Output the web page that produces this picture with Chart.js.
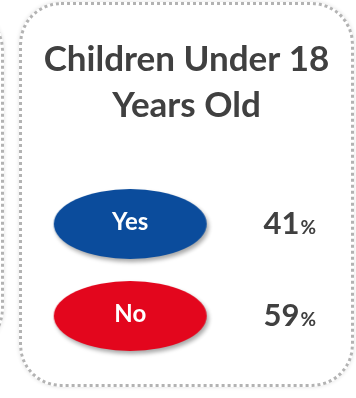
<!DOCTYPE html>
<html>
<head>
<meta charset="utf-8">
<title>Children Under 18 Years Old</title>
<script src="https://cdn.jsdelivr.net/npm/chart.js@4.4.1/dist/chart.umd.min.js"></script>
<style>
  html, body { margin: 0; padding: 0; background: #fff; }
  body { width: 356px; height: 398px; position: relative; overflow: hidden; }
  .panel {
    position: absolute;
    border: 3px dotted #b3b3b3;
    border-radius: 42px;
    box-shadow: 0 0 4px rgba(0, 0, 0, 0.12);
  }
  #prevPanel { left: -300px; top: 8px; width: 298px; height: 337px; }
  #mainPanel { left: 19px; top: 2px; width: 329px; height: 379px; }
  #childrenChart { position: absolute; left: 0; top: 0; }
</style>
</head>
<body>
<div class="panel" id="prevPanel"></div>
<div class="panel" id="mainPanel"></div>
<canvas id="childrenChart" width="356" height="398"></canvas>

<script>
const answers = ['Yes', 'No'];
const shares = [41, 59];
const badgeColors = ['#0b4c9c', '#e3061d'];

const BADGE_X = 0.333;   // column for the answer ovals
const SHARE_X = 0.736;   // column for the percentages

// oval badge used as the point style
function makeBadge(color) {
    const w = 153, h = 70, pad = 8;
    const c = document.createElement('canvas');
    c.width = w + pad * 2;
    c.height = h + pad * 2;
    const g = c.getContext('2d');
    g.shadowColor = 'rgba(0, 0, 0, 0.35)';
    g.shadowBlur = 4;
    g.shadowOffsetX = 2;
    g.shadowOffsetY = 3;
    g.fillStyle = color;
    g.beginPath();
    g.ellipse(c.width / 2, c.height / 2, w / 2, h / 2, 0, 0, Math.PI * 2);
    g.fill();
    return c;
}
const badges = badgeColors.map(makeBadge);

// answer text inside the ovals + share on the right
const badgeLabels = {
    id: 'badgeLabels',
    afterDatasetsDraw(chart) {
        const ctx = chart.ctx;
        const xScale = chart.scales.x;
        const sx = xScale.getPixelForValue(SHARE_X);
        const meta = chart.getDatasetMeta(0);
        ctx.save();
        meta.data.forEach((pt, i) => {
            ctx.fillStyle = '#ffffff';
            ctx.textAlign = 'center';
            ctx.textBaseline = 'middle';
            ctx.font = 'bold 24px Lato';
            ctx.fillText(answers[i], pt.x, pt.y - 2);

            ctx.fillStyle = '#404040';
            ctx.textAlign = 'left';
            ctx.textBaseline = 'alphabetic';
            ctx.font = 'bold 31px Lato';
            const num = String(shares[i]);
            ctx.fillText(num, sx, pt.y + 10);
            const nw = ctx.measureText(num).width;
            ctx.font = 'bold 19px Lato';
            ctx.fillText('%', sx + nw + 1, pt.y + 10);
        });
        ctx.restore();
    }
};

new Chart(document.getElementById('childrenChart'), {
    type: 'scatter',
    data: {
        datasets: [{
            data: answers.map(a => ({ x: BADGE_X, y: a })),
            pointStyle: ctx => badges[ctx.dataIndex],
            pointRadius: 4
        }]
    },
    options: {
        responsive: false,
        animation: false,
        events: [],
        layout: {
            padding: { left: 20, right: 3, top: 0, bottom: 36 }
        },
        scales: {
            x: { type: 'linear', min: 0, max: 1, display: false },
            y: { type: 'category', labels: answers, offset: true, display: false }
        },
        plugins: {
            legend: { display: false },
            tooltip: { enabled: false },
            title: {
                display: true,
                text: ['Children Under 18', 'Years Old'],
                color: '#404040',
                font: { family: 'Lato', size: 35, weight: 'bold', lineHeight: 1.3 },
                padding: { top: 37, bottom: 50 }
            }
        }
    },
    plugins: [badgeLabels]
});
</script>
</body>
</html>
